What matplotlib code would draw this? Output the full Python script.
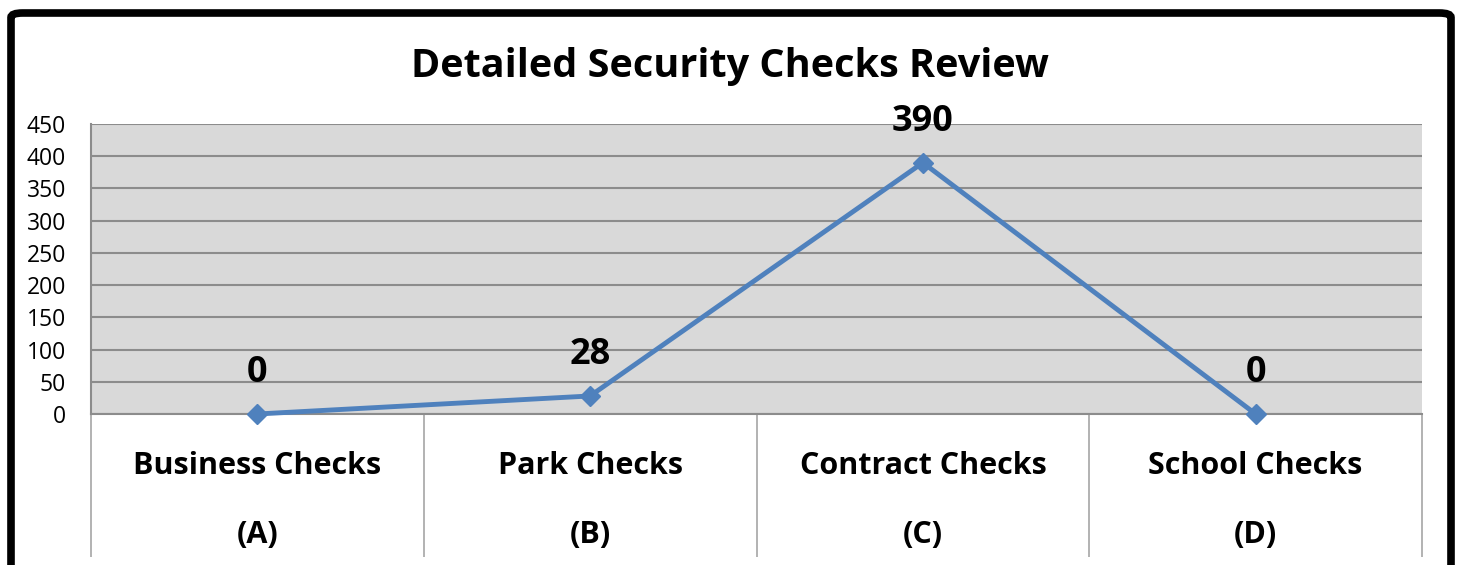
import matplotlib.pyplot as plt
from matplotlib.patches import FancyBboxPatch

# данные с картинки
categories = ['Business Checks\n\n(A)', 'Park Checks\n\n(B)', 'Contract Checks\n\n(C)', 'School Checks\n\n(D)']
values = [0, 28, 390, 0]
yticks = [0, 50, 100, 150, 200, 250, 300, 350, 400, 450]

plt.rcParams['font.family'] = ['Open Sans', 'DejaVu Sans']

fig = plt.figure(figsize=(14.62, 5.65), dpi=100)
ax = fig.add_axes([91 / 1462, 1 - 414 / 565, (1422 - 91) / 1462, (414 - 124) / 565])

x = list(range(len(values)))
ax.plot(x, values, color='#4F81BD', linewidth=3.5, marker='D', markersize=10, zorder=3, clip_on=False)

# подписи значений
for xi, v in zip(x, values):
    ax.annotate(str(v), (xi, v), xytext=(0, 29.5), textcoords='offset points',
                ha='center', va='center', fontsize=26, fontweight='bold')

ax.set_facecolor('#D9D9D9')
ax.set_xlim(-0.5, 3.5)
ax.set_ylim(0, 450)
ax.set_yticks(yticks)
ax.tick_params(axis='y', length=0, pad=18, labelsize=16.5)
ax.yaxis.grid(True, color='#8C8C8C', linewidth=1.5)
ax.set_axisbelow(True)

# категории и разделители
ax.set_xticks(x)
ax.set_xticklabels(categories, fontsize=22, fontweight='bold', linespacing=1.18)
ax.tick_params(axis='x', length=0, pad=27)
ax.set_xticks([-0.5, 0.5, 1.5, 2.5, 3.5], minor=True)
ax.tick_params(axis='x', which='minor', length=103, width=1.2, color='#A6A6A6')

for s in ['top', 'right']:
    ax.spines[s].set_visible(False)
ax.spines['left'].set_color('#8C8C8C')
ax.spines['bottom'].set_color('#8C8C8C')
ax.spines['left'].set_linewidth(1.5)
ax.spines['bottom'].set_linewidth(1.5)

fig.text(730 / 1462, 1 - 66 / 565, 'Detailed Security Checks Review', ha='center', va='center',
         fontsize=28.5, fontweight='bold')

# черная рамка
frame = FancyBboxPatch((11 / 1462, -0.2), (1451 - 11) / 1462, 1.2 - 13 / 565,
                       boxstyle='round,pad=0,rounding_size=0.008', transform=fig.transFigure,
                       fill=False, edgecolor='black', linewidth=5.5)
fig.patches.append(frame)

fig.savefig('out.png', dpi=100)
